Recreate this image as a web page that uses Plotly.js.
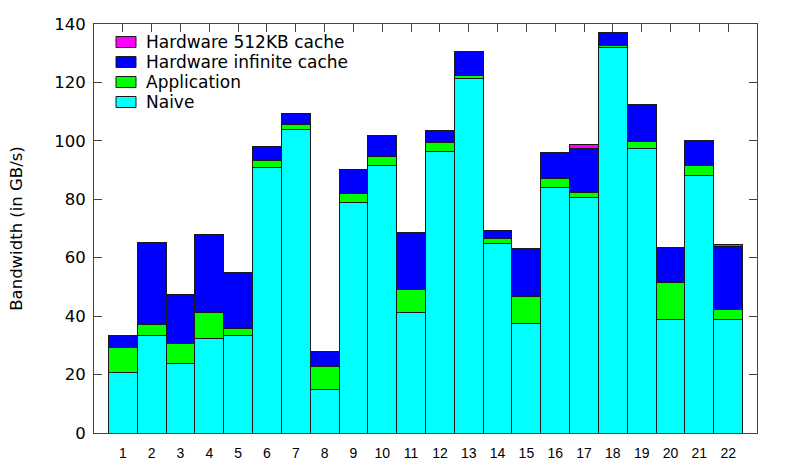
<!DOCTYPE html>
<html>
<head>
<meta charset="utf-8">
<script src="https://cdn.plot.ly/plotly-3.0.1.min.js"></script>
<style>html,body{margin:0;padding:0;background:#fff;}#chart{width:789px;height:473px;}</style>
</head>
<body>
<div id="chart"></div>
<script>
// Category labels
const categories = [1,2,3,4,5,6,7,8,9,10,11,12,13,14,15,16,17,18,19,20,21,22];
// Cumulative bandwidth levels (GB/s)
const naive        = [20.8,33.5,23.9,32.4,33.3,91.0,104.0,14.8,79.0,91.6,41.4,96.4,121.5,65.0,37.6,84.1,80.7,132.0,97.3,38.7,88.2,38.7];
const application  = [29.2,37.0,30.7,41.2,35.8,93.4,105.5,22.8,81.9,94.6,49.2,99.5,122.3,66.5,46.7,87.1,82.3,132.7,99.7,51.6,91.5,42.2];
const hwInfinite   = [33.5,65.2,47.5,67.9,55.0,98.1,109.4,28.0,90.3,102.0,68.6,103.5,130.7,69.4,63.0,96.1,97.3,137.0,112.3,63.4,100.1,63.7];
const hw512KB      = [33.5,65.2,47.5,67.9,55.0,98.1,109.4,28.0,90.3,102.0,68.6,103.5,130.7,69.4,63.0,96.1,98.8,137.0,112.3,63.4,100.1,64.6];
const yTicks = [0,20,40,60,80,100,120,140];
// Legend entries (top to bottom)
const legendNames  = ['Hardware 512KB cache','Hardware infinite cache','Application','Naive'];
const legendColors = ['#ff00ff','#0000ff','#00ff00','#00ffff'];

function diff(a, b){ return a.map((v,i)=>Math.max(0, +(v - b[i]).toFixed(3))); }

const line = {color:'#1a1a1a', width:1};
const series = [
  {name:'Naive', y: naive, color:'#00ffff'},
  {name:'Application', y: diff(application, naive), color:'#00ff00'},
  {name:'Hardware infinite cache', y: diff(hwInfinite, application), color:'#0000ff'},
  {name:'Hardware 512KB cache', y: diff(hw512KB, hwInfinite), color:'#ff00ff'}
];
const traces = series.map(t => ({
  type:'bar', x: categories, y: t.y, name: t.name,
  marker:{color:t.color, line: line},
  width: 1, hoverinfo:'skip', showlegend:false
}));

// Gnuplot-style key drawn with shapes + text (paper coordinates)
const plotW = 663, plotH = 409;
const keyX0 = 22/plotW, keyX1 = 42/plotW, keyTextX = 50/plotW;
const keyRow0 = 18, keyRowStep = 20, keyHalfH = 5.5;
const shapes = [], annotations = [];
legendNames.forEach((nm, i) => {
  const yc = 1 - (keyRow0 + i*keyRowStep)/plotH;
  shapes.push({type:'rect', xref:'paper', yref:'paper', x0:keyX0, x1:keyX1,
    y0: yc - keyHalfH/plotH, y1: yc + keyHalfH/plotH,
    fillcolor: legendColors[i], line:{color:'#1a1a1a', width:1}});
  annotations.push({xref:'paper', yref:'paper', x:keyTextX, y:yc, xanchor:'left', yanchor:'middle',
    text: nm, showarrow:false, font:{size:17, family:'DejaVu Sans, sans-serif', color:'#000'}});
});

const axisColor = '#444';
const layout = {
  width:789, height:473,
  margin:{l:94, r:32, t:24, b:40, pad:0},
  paper_bgcolor:'#fff', plot_bgcolor:'#fff',
  barmode:'stack', bargap:0,
  font:{family:'DejaVu Sans, sans-serif', color:'#000'},
  xaxis:{
    range:[0,23], tickmode:'array', tickvals:categories, ticktext:categories.map(String),
    ticks:'inside', ticklen:8, tickcolor:axisColor, tickwidth:1,
    showline:true, linecolor:axisColor, linewidth:1, mirror:'ticks',
    showgrid:false, zeroline:false, layer:'below traces',
    tickfont:{size:14, family:'Liberation Sans, Arial, sans-serif'}, ticklabelstandoff:7
  },
  yaxis:{
    range:[0,140], tickmode:'array', tickvals:yTicks,
    ticks:'inside', ticklen:8, tickcolor:axisColor, tickwidth:1,
    showline:true, linecolor:axisColor, linewidth:1, mirror:'ticks',
    showgrid:false, zeroline:false, layer:'below traces',
    tickfont:{size:16.5, family:'DejaVu Sans, sans-serif'}, ticklabelstandoff:4,
    title:{text:'Bandwidth (in GB/s)', font:{size:16.5, family:'DejaVu Sans, sans-serif'}, standoff:27}
  },
  showlegend:false,
  shapes: shapes,
  annotations: annotations
};

Plotly.newPlot('chart', traces, layout, {displayModeBar:false, staticPlot:true});
</script>
</body>
</html>
